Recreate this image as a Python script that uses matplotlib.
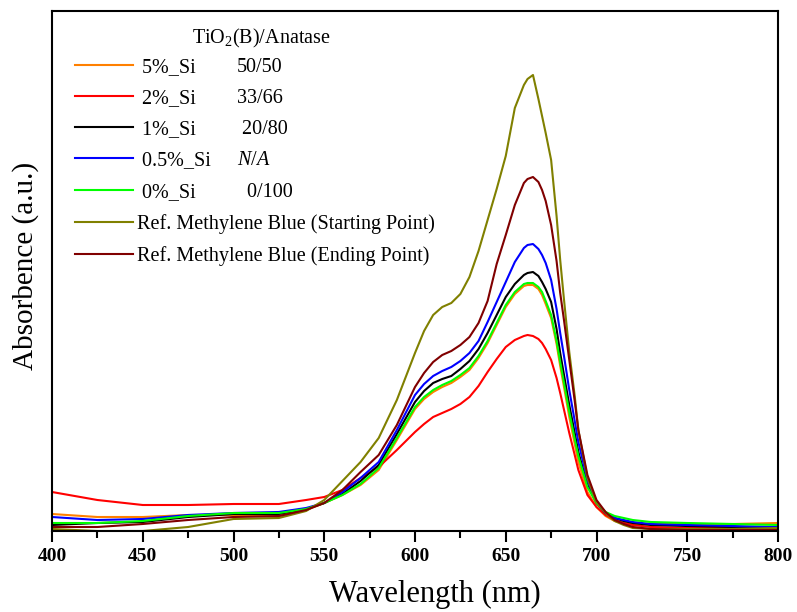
import numpy as np
import matplotlib
matplotlib.use('Agg')
import matplotlib.pyplot as plt
from matplotlib.lines import Line2D
from matplotlib.ticker import MultipleLocator

plt.rcParams['font.family'] = 'Liberation Serif'
plt.rcParams['mathtext.fontset'] = 'custom'
plt.rcParams['mathtext.rm'] = 'Liberation Serif'
plt.rcParams['mathtext.it'] = 'Liberation Serif:italic'

# wavelength grid (nm), absorbance (a.u.)
wavelength = [400, 425, 450, 475, 500, 525, 540, 550, 560, 570, 580, 590,
              600, 605, 610, 615, 620, 625, 630, 635, 640, 645, 650, 655,
              660, 662, 665, 668, 670, 672, 675, 678, 680, 682, 685, 688,
              690, 695, 700, 705, 710, 715, 720, 730, 750, 775, 800]

si_5 = [0.17, 0.14, 0.14, 0.16, 0.16, 0.15, 0.21, 0.28, 0.36, 0.46, 0.61, 0.91,
        1.22, 1.32, 1.39, 1.44, 1.48, 1.54, 1.61, 1.73, 1.88, 2.06, 2.24, 2.37,
        2.45, 2.46, 2.46, 2.42, 2.36, 2.27, 2.13, 1.87, 1.65, 1.45, 1.14, 0.87,
        0.69, 0.39, 0.24, 0.15, 0.10, 0.08, 0.07, 0.07, 0.07, 0.07, 0.08]
si_2 = [0.39, 0.31, 0.26, 0.26, 0.27, 0.27, 0.31, 0.34, 0.41, 0.53, 0.64, 0.81,
        0.99, 1.07, 1.14, 1.18, 1.22, 1.27, 1.34, 1.45, 1.59, 1.72, 1.84, 1.91,
        1.95, 1.96, 1.95, 1.92, 1.88, 1.82, 1.71, 1.53, 1.38, 1.22, 0.98, 0.76,
        0.61, 0.36, 0.24, 0.16, 0.11, 0.08, 0.06, 0.04, 0.03, 0.03, 0.03]
si_1 = [0.06, 0.08, 0.09, 0.14, 0.17, 0.17, 0.22, 0.28, 0.37, 0.50, 0.66, 0.97,
        1.29, 1.40, 1.48, 1.52, 1.55, 1.62, 1.70, 1.82, 1.98, 2.16, 2.34, 2.47,
        2.56, 2.58, 2.59, 2.55, 2.49, 2.42, 2.29, 2.02, 1.78, 1.57, 1.26, 0.98,
        0.79, 0.46, 0.28, 0.18, 0.13, 0.10, 0.08, 0.06, 0.05, 0.04, 0.03]
si_05 = [0.14, 0.11, 0.12, 0.16, 0.18, 0.19, 0.23, 0.28, 0.39, 0.53, 0.69, 1.01,
         1.36, 1.47, 1.55, 1.60, 1.64, 1.70, 1.78, 1.90, 2.09, 2.29, 2.49, 2.69,
         2.83, 2.86, 2.87, 2.82, 2.76, 2.68, 2.51, 2.22, 1.98, 1.76, 1.41, 1.10,
         0.89, 0.51, 0.29, 0.18, 0.13, 0.11, 0.09, 0.07, 0.06, 0.05, 0.04]
si_0 = [0.08, 0.08, 0.10, 0.15, 0.18, 0.18, 0.22, 0.28, 0.36, 0.47, 0.63, 0.93,
        1.24, 1.34, 1.41, 1.46, 1.50, 1.56, 1.63, 1.75, 1.90, 2.08, 2.26, 2.39,
        2.47, 2.48, 2.48, 2.44, 2.39, 2.30, 2.16, 1.90, 1.69, 1.49, 1.19, 0.92,
        0.75, 0.44, 0.28, 0.19, 0.15, 0.13, 0.11, 0.09, 0.08, 0.07, 0.06]
mb_start = [0.02, 0.00, 0.00, 0.04, 0.12, 0.13, 0.20, 0.31, 0.50, 0.69, 0.93, 1.31,
            1.78, 2.00, 2.16, 2.24, 2.28, 2.37, 2.54, 2.80, 3.11, 3.42, 3.75, 4.23,
            4.46, 4.52, 4.56, 4.32, 4.15, 3.98, 3.71, 3.15, 2.71, 2.33, 1.79, 1.35,
            1.01, 0.53, 0.29, 0.18, 0.10, 0.06, 0.03, 0.02, 0.02, 0.02, 0.03]
mb_end = [0.04, 0.04, 0.07, 0.11, 0.14, 0.15, 0.21, 0.28, 0.41, 0.59, 0.76, 1.06,
          1.44, 1.58, 1.69, 1.76, 1.80, 1.86, 1.94, 2.08, 2.30, 2.67, 2.96, 3.26,
          3.48, 3.52, 3.54, 3.49, 3.41, 3.30, 3.06, 2.70, 2.38, 2.12, 1.71, 1.30,
          1.01, 0.56, 0.31, 0.19, 0.11, 0.07, 0.04, 0.02, 0.01, 0.01, 0.01]

series = [si_5, si_2, si_1, si_05, si_0, mb_start, mb_end]
labels = [' 5%_Si', ' 2%_Si', ' 1%_Si', ' 0.5%_Si', ' 0%_Si',
          'Ref. Methylene Blue (Starting Point)', 'Ref. Methylene Blue (Ending Point)']
ratios = ['50/50', '33/66', ' 20/80', r'$\it{N/A}$', '  0/100']
colors = ['#FF8000', '#FF0000', '#000000', '#0000FF', '#00FF00', '#808000', '#800000']

fig = plt.figure(figsize=(7.97, 6.12), dpi=100)
ax = fig.add_axes([52 / 797, 81 / 612, 726 / 797, 520 / 612])

for y, c in zip(series, colors):
    ax.plot(wavelength, y, color=c, lw=1.5)

ax.set_xlim(400, 800)
ax.set_ylim(0, 5.2)
ax.xaxis.set_major_locator(MultipleLocator(50))
ax.xaxis.set_minor_locator(MultipleLocator(25))
ax.tick_params(axis='x', which='major', direction='out', length=8, width=1.5, labelsize=14, pad=4)
ax.tick_params(axis='x', which='minor', direction='out', length=5, width=1.5)
ax.tick_params(axis='y', left=False, labelleft=False)
for lab in ax.get_xticklabels():
    lab.set_fontweight('bold')
for s in ax.spines.values():
    s.set_linewidth(1.5)

ax.set_xlabel('Wavelength (nm)', fontsize=22)
ax.xaxis.set_label_coords(0.527, -0.094)
ax.set_ylabel('Absorbence (a.u.)', fontsize=21)
ax.yaxis.set_label_coords(-0.018, 0.51)

handles = [Line2D([], [], color=c, lw=1.5) for c in colors]
leg = ax.legend(handles, labels, loc='upper left', bbox_to_anchor=(0.0317, 0.91),
                frameon=False, fontsize=14.5, handlelength=2.9, handletextpad=0.2,
                labelspacing=0.6, borderpad=0, borderaxespad=0)

ax.text(0.288, 0.948, r'TiO$_2$(B)/Anatase', transform=ax.transAxes,
        ha='center', va='center', fontsize=14.5)

fig.canvas.draw()
inv = ax.transAxes.inverted()
for txt, r in zip(leg.get_texts()[:5], ratios):
    bb = txt.get_window_extent()
    yc = inv.transform((0, (bb.y0 + bb.y1) / 2))[1]
    ax.text(0.2548, yc, r, transform=ax.transAxes, ha='left', va='center', fontsize=14.5)

fig.savefig('out.png', dpi=100)
